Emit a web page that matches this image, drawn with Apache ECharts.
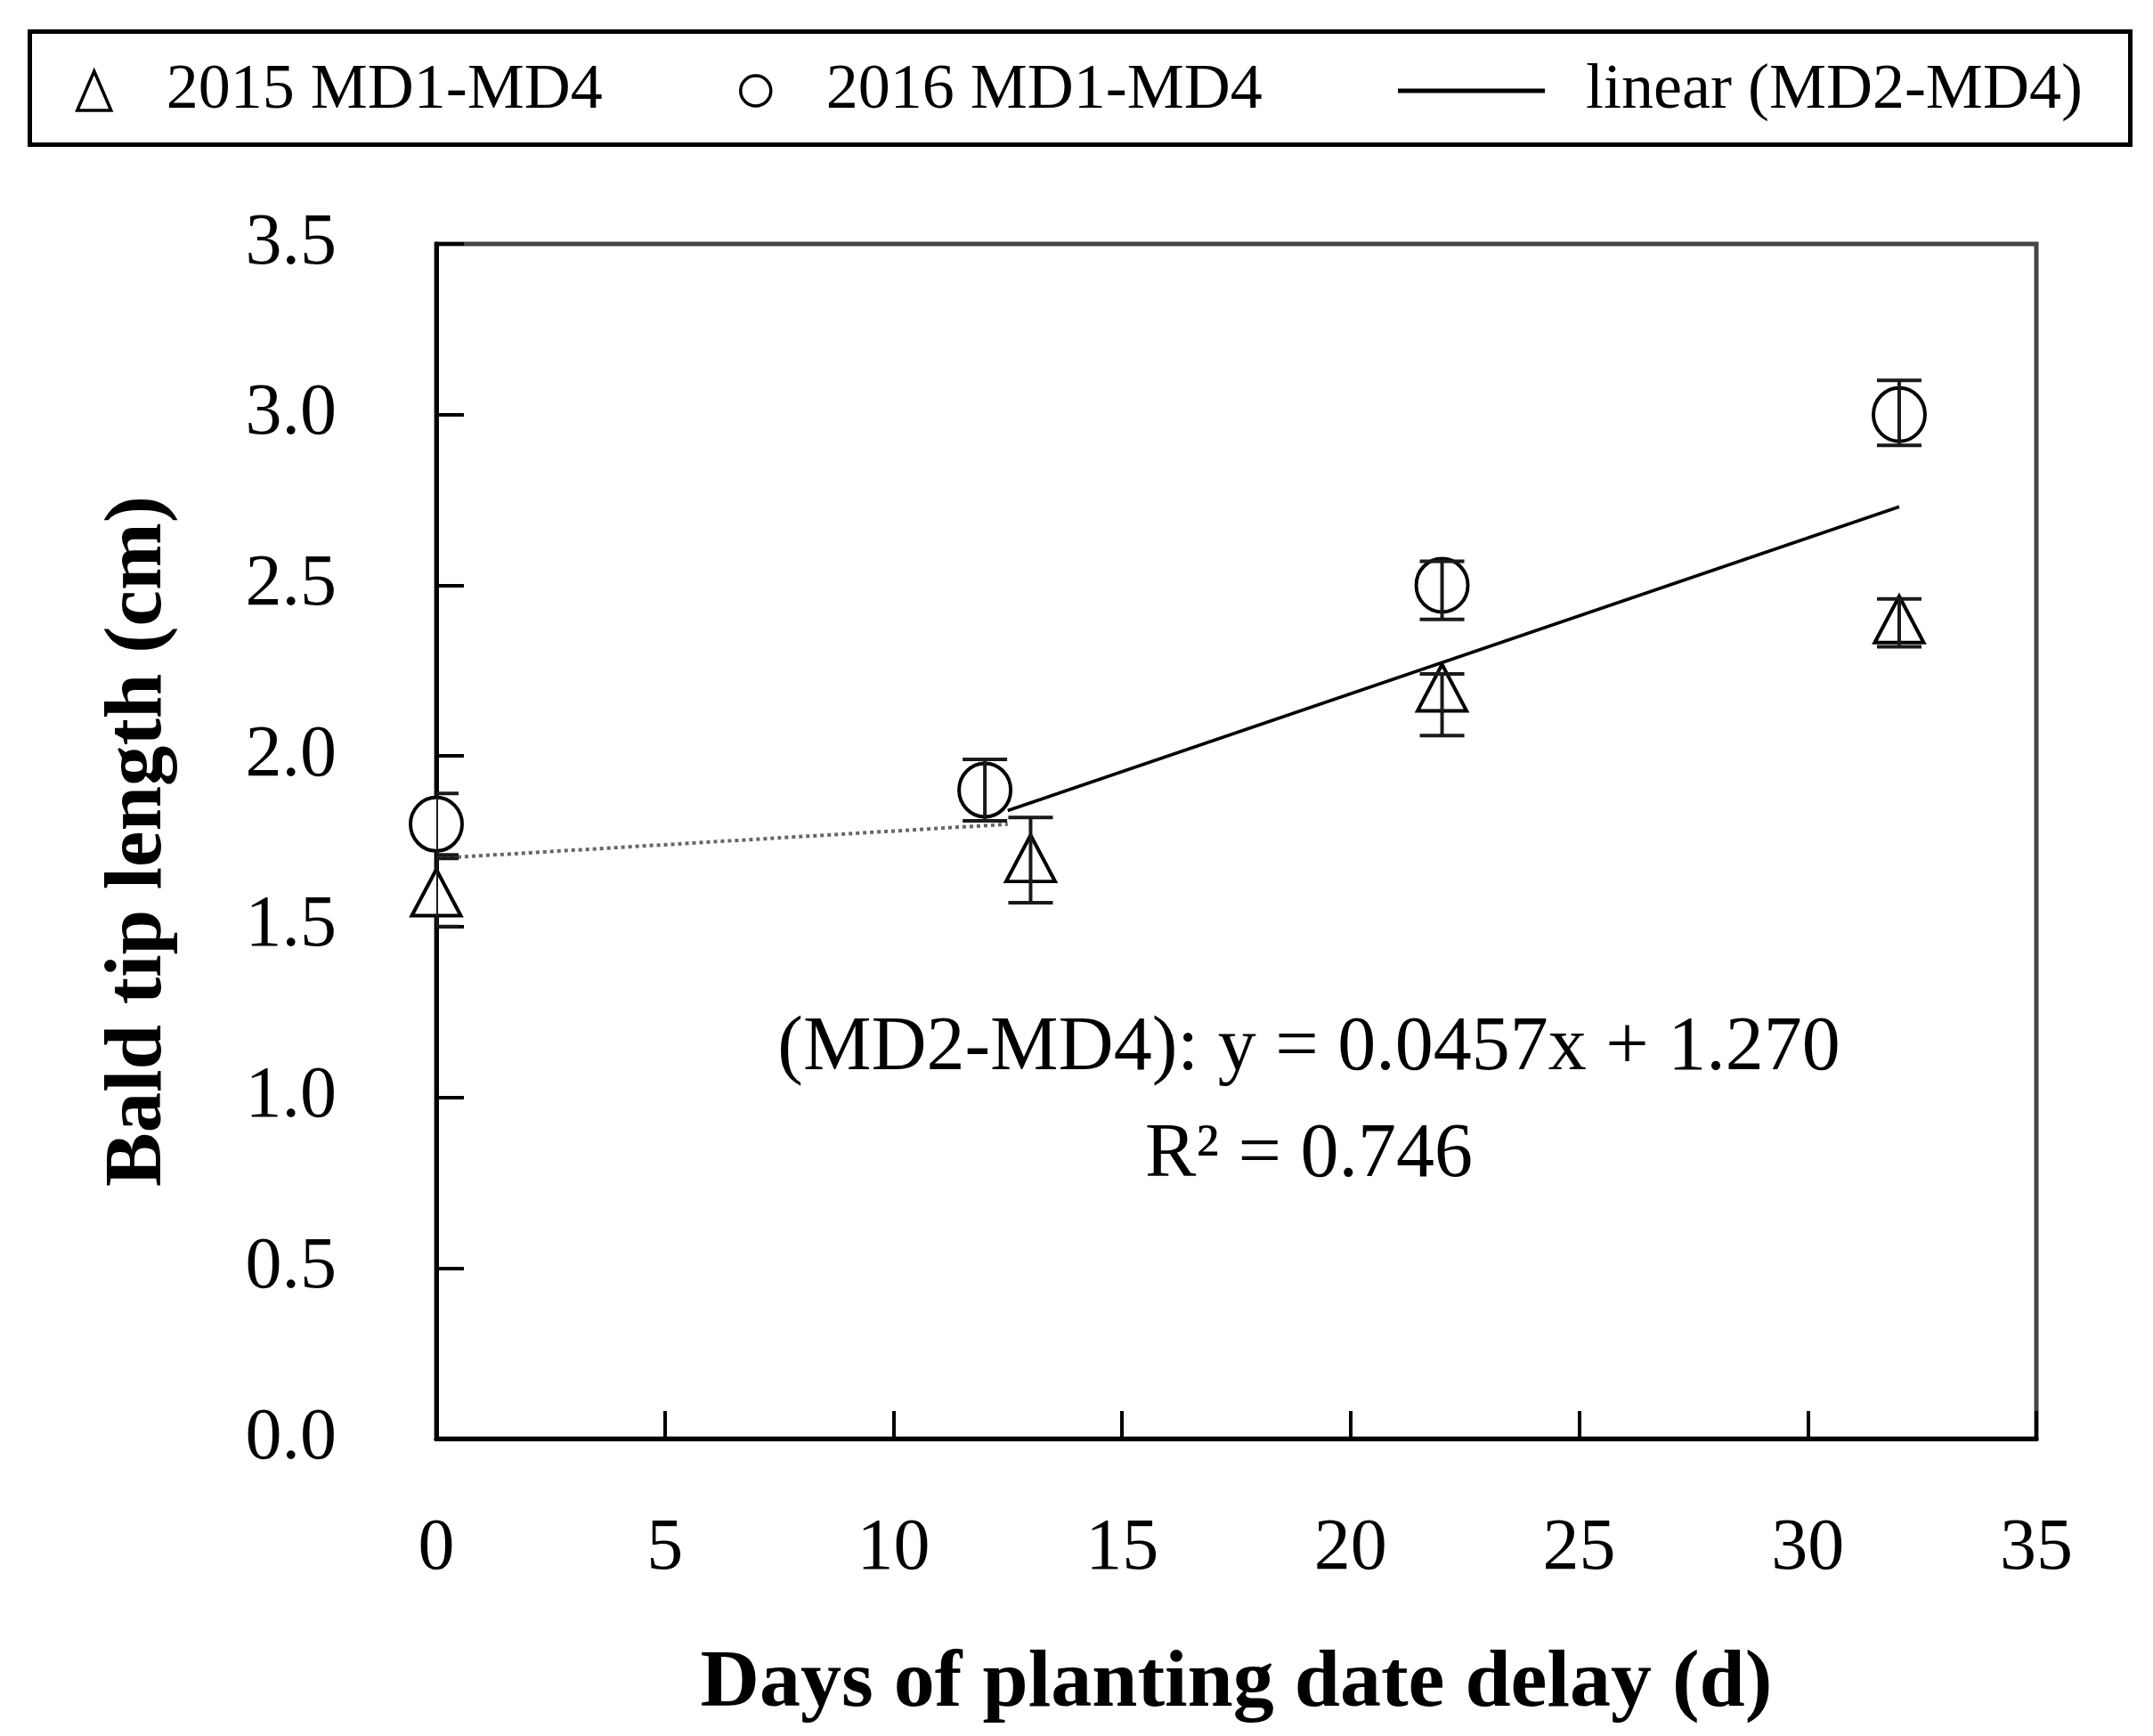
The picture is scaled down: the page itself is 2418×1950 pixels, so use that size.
<!DOCTYPE html>
<html><head><meta charset="utf-8">
<script src="https://cdn.jsdelivr.net/npm/echarts@6/dist/echarts.min.js"></script>
<style>html,body{margin:0;padding:0;background:#fff}#c{width:2418px;height:1950px}</style>
</head><body><div id="c"></div>
<script>
// ---- data ----
const x2015 = [0, 13, 22, 32];
const y2015 = [1.6, 1.7, 2.2, 2.4];
const lo2015 = [1.50, 1.57, 2.06, 2.32];
const hi2015 = [1.70, 1.82, 2.24, 2.46];
const x2016 = [0, 12, 22, 32];
const y2016 = [1.8, 1.9, 2.5, 3.0];
const lo2016 = [1.71, 1.81, 2.40, 2.91];
const hi2016 = [1.89, 1.99, 2.57, 3.10];
const linX = [12.5, 32];
const linY = [1.84, 2.73];
const md1X = [0, 12.5];
const md1Y = [1.70, 1.80];
const seriesNames = ['2015 MD1-MD4', '2016 MD1-MD4', 'linear (MD2-MD4)'];
const xTitle = 'Days of planting date delay (d)';
const yTitle = 'Bald tip length (cm)';
const eqText = '(MD2-MD4): y = 0.0457x + 1.270';
const r2Text = 'R\u00B2 = 0.746';

const FONT = "'Liberation Serif', 'DejaVu Serif', serif";
const zip = (xs, ys) => xs.map((x, i) => [x, ys[i]]);

function errSeries(xs, lo, hi) {
  return {
    type: 'custom', clip: true, silent: true, z: 4,
    data: xs.map((x, i) => [x, lo[i], hi[i]]),
    encode: { x: 0, y: [1, 2] },
    renderItem(params, api) {
      const x = api.value(0);
      const a = api.coord([x, api.value(1)]);
      const b = api.coord([x, api.value(2)]);
      const hw = 25;
      const st = { stroke: '#1a1a1a', lineWidth: 4 };
      return { type: 'group', children: [
        { type: 'line', shape: { x1: a[0], y1: a[1], x2: b[0], y2: b[1] }, style: st },
        { type: 'line', shape: { x1: a[0] - hw, y1: a[1], x2: a[0] + hw, y2: a[1] }, style: st },
        { type: 'line', shape: { x1: b[0] - hw, y1: b[1], x2: b[0] + hw, y2: b[1] }, style: st }
      ]};
    }
  };
}

const chart = echarts.init(document.getElementById('c'));
const legendText = { fontFamily: FONT, fontSize: 72, color: '#000', lineHeight: 80 };
const openItem = { color: '#fff', borderColor: '#000', borderWidth: 3.5 };

chart.setOption({
  animation: false,
  backgroundColor: '#fff',
  grid: { left: 490, top: 274, right: 131, bottom: 334, show: true, borderColor: '#444', borderWidth: 5 },
  legend: [
    { data: [{ name: seriesNames[0], icon: 'triangle' }], left: 85, top: 62, padding: 0,
      itemWidth: 38, itemHeight: 44, itemStyle: openItem,
      textStyle: Object.assign({ padding: [0, 0, 0, 57] }, legendText) },
    { data: [{ name: seriesNames[1], icon: 'circle' }], left: 830, top: 62, padding: 0,
      itemWidth: 34, itemHeight: 46, itemStyle: openItem,
      textStyle: Object.assign({ padding: [0, 0, 0, 57] }, legendText) },
    { data: [{ name: seriesNames[2], icon: 'rect' }], left: 1570, top: 62, padding: 0,
      itemWidth: 165, itemHeight: 5,
      itemStyle: { color: '#000', borderWidth: 0 },
      textStyle: Object.assign({ padding: [0, 0, 0, 41] }, legendText) }
  ],
  graphic: [
    { type: 'rect', shape: { x: 33.5, y: 35.5, width: 2359, height: 127 },
      style: { fill: 'none', stroke: '#000', lineWidth: 5 }, silent: true },
    { type: 'text', x: 1470, y: 1178, silent: true,
      style: { text: eqText, font: '86px ' + FONT, fill: '#000', textAlign: 'center', textVerticalAlign: 'middle' } },
    { type: 'text', x: 1470, y: 1298, silent: true,
      style: { text: r2Text, font: '86px ' + FONT, fill: '#000', textAlign: 'center', textVerticalAlign: 'middle' } }
  ],
  xAxis: {
    type: 'value', min: 0, max: 35, interval: 5,
    splitLine: { show: false },
    axisLine: { onZero: false, lineStyle: { color: '#000', width: 5 } },
    axisTick: { inside: true, length: 31, lineStyle: { color: '#000', width: 4 } },
    axisLabel: { margin: 83, fontSize: 82, fontFamily: FONT, color: '#000' },
    name: xTitle, nameLocation: 'middle', nameGap: 230,
    nameTextStyle: { fontSize: 92, fontWeight: 'bold', fontFamily: FONT, color: '#000' }
  },
  yAxis: {
    type: 'value', min: 0, max: 3.5, interval: 0.5,
    splitLine: { show: false },
    axisLine: { onZero: false, lineStyle: { color: '#000', width: 5 } },
    axisTick: { inside: true, length: 31, lineStyle: { color: '#000', width: 4 } },
    axisLabel: { margin: 112, fontSize: 82, fontFamily: FONT, color: '#000', formatter: v => v.toFixed(1) },
    name: yTitle, nameLocation: 'middle', nameGap: 288, nameRotate: 90,
    nameTextStyle: { fontSize: 91, fontWeight: 'bold', fontFamily: FONT, color: '#000' }
  },
  series: [
    { name: 'MD1-MD2', type: 'line', data: zip(md1X, md1Y), symbol: 'none', z: 1,
      lineStyle: { color: '#666', width: 4, type: 'dotted' } },
    { name: seriesNames[2], type: 'line', data: zip(linX, linY), symbol: 'none', showSymbol: false, z: 1,
      itemStyle: { color: '#000' },
      lineStyle: { color: '#000', width: 3.5 } },
    { name: seriesNames[0], type: 'scatter', data: zip(x2015, y2015), symbol: 'triangle',
      symbolSize: [55, 52], z: 3, itemStyle: { color: '#fff', borderColor: '#000', borderWidth: 4, opacity: 1 } },
    { name: seriesNames[1], type: 'scatter', data: zip(x2016, y2016), symbol: 'circle',
      symbolSize: [58, 60], z: 3, itemStyle: { color: '#fff', borderColor: '#000', borderWidth: 4, opacity: 1 } },
    errSeries(x2015, lo2015, hi2015),
    errSeries(x2016, lo2016, hi2016)
  ]
});
</script>
</body></html>
